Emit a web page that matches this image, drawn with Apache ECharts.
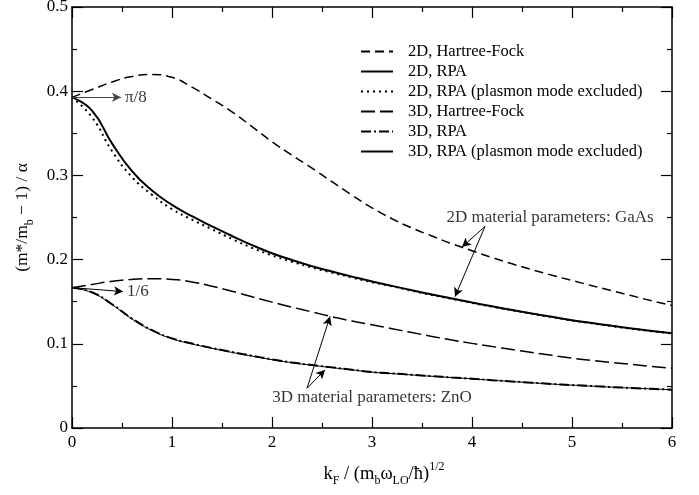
<!DOCTYPE html>
<html lang="en">
<head>
    <meta charset="UTF-8">
    <title>Effective mass</title>
    <style>
        body { margin: 0; background: #fff; }
        #container { width: 699px; height: 495px; }
    </style>
</head>
<body>
    <div id="container"></div>
    <script src="https://cdn.jsdelivr.net/npm/echarts@6/dist/echarts.min.js"></script>
    <script>
        // k_F sampled every 0.2 from 0 to 6
        var kF = [0, 0.2, 0.4, 0.6, 0.8, 1.0, 1.2, 1.4, 1.6, 1.8, 2.0, 2.2, 2.4, 2.6, 2.8, 3.0,
            3.2, 3.4, 3.6, 3.8, 4.0, 4.2, 4.4, 4.6, 4.8, 5.0, 5.2, 5.4, 5.6, 5.8, 6.0];

        var hf2D = [0.3927, 0.402, 0.411, 0.4175, 0.4198, 0.4165, 0.4048, 0.3905, 0.3755, 0.358, 0.340,
            0.324, 0.3085, 0.2925, 0.2765, 0.2615, 0.2485, 0.2375, 0.228, 0.2188, 0.2105,
            0.2025, 0.195, 0.188, 0.1815, 0.1752, 0.169, 0.163, 0.157, 0.151, 0.1455];
        var rpa2D = [0.3927, 0.377, 0.338, 0.305, 0.282, 0.265, 0.2515, 0.2395, 0.228, 0.2172, 0.2075,
            0.1995, 0.1922, 0.1858, 0.1798, 0.174, 0.1688, 0.1635, 0.1585, 0.1538, 0.149,
            0.1445, 0.1402, 0.136, 0.132, 0.128, 0.1246, 0.1213, 0.1182, 0.1153, 0.1125];
        var rpaEx2D = [0.3927, 0.369, 0.329, 0.298, 0.277, 0.260, 0.2475, 0.236, 0.2245, 0.214, 0.205,
            0.1975, 0.1905, 0.1845, 0.1787, 0.1732, 0.1683, 0.163, 0.158, 0.1533, 0.1486,
            0.1441, 0.1398, 0.1356, 0.1316, 0.1276, 0.1243, 0.121, 0.1179, 0.115, 0.1122];
        var hf3D = [0.1667, 0.1705, 0.1742, 0.1765, 0.1773, 0.1765, 0.1735, 0.1683, 0.1625, 0.1558, 0.1495,
            0.1435, 0.1378, 0.1322, 0.127, 0.1225, 0.118, 0.1133, 0.1088, 0.1045, 0.1005,
            0.0968, 0.0932, 0.0897, 0.0863, 0.083, 0.0803, 0.0778, 0.0754, 0.0731, 0.071];
        var rpa3D = [0.1667, 0.1612, 0.147, 0.130, 0.1162, 0.1065, 0.1003, 0.095, 0.0902, 0.0858, 0.0815,
            0.0778, 0.0748, 0.072, 0.0692, 0.0665, 0.0648, 0.0632, 0.0616, 0.06, 0.0585,
            0.0568, 0.0553, 0.0538, 0.0523, 0.051, 0.0498, 0.0486, 0.0475, 0.0465, 0.0455];
        var rpaEx3D = [0.1667, 0.1607, 0.1465, 0.1295, 0.1157, 0.106, 0.0998, 0.0946, 0.0898, 0.0854, 0.0811,
            0.0775, 0.0745, 0.0717, 0.069, 0.0663, 0.0646, 0.063, 0.0614, 0.0599, 0.0584,
            0.0567, 0.0552, 0.0537, 0.0522, 0.0509, 0.0497, 0.0485, 0.0474, 0.0464, 0.0454];

        var seriesNames = ['2D, Hartree-Fock', '2D, RPA', '2D, RPA (plasmon mode excluded)',
            '3D, Hartree-Fock', '3D, RPA', '3D, RPA (plasmon mode excluded)'];

        // annotation texts: [x, y, text, anchored at left?]
        var notes = [
            [0.51, 0.3927, 'π/8', true],
            [0.53, 0.162, '1/6', true],
            [4.78, 0.25, '2D material parameters: GaAs', false],
            [3.0, 0.0357, '3D material parameters: ZnO', false]
        ];
        // arrows: [x0, y0, x1, y1]
        var arrows = [
            [0, 0.3927, 0.49, 0.3927],
            [0, 0.1667, 0.51, 0.162],
            [4.13, 0.2394, 3.90, 0.2149],
            [4.13, 0.2394, 3.83, 0.156],
            [2.35, 0.0472, 2.58, 0.1324],
            [2.35, 0.0472, 2.53, 0.069]
        ];

        function pairs(ys) {
            return kF.map(function (x, i) { return [x, ys[i]]; });
        }

        var font = 'Liberation Serif';

        var ec = echarts.init(document.querySelector('#container'));

        function lineSeries(name, ys, type, width) {
            return {
                name: name,
                type: 'line',
                data: pairs(ys),
                smooth: 0.5,
                symbol: 'none',
                lineStyle: { color: '#000', width: width, type: type },
                itemStyle: { color: '#000' },
                z: 3
            };
        }

        var axisCommon = {
            type: 'value',
            splitLine: { show: false },
            axisLine: { onZero: false, lineStyle: { color: '#000', width: 1.5 } },
            axisTick: { inside: true, length: 11, lineStyle: { color: '#000', width: 1.2 } },
            minorTick: { show: true, splitNumber: 2, length: 5, lineStyle: { color: '#000', width: 1.2 } }
        };

        var subStyle = { fontFamily: font, fontSize: 12, lineHeight: 12, verticalAlign: 'bottom', padding: [14, 0, 0, 0], color: '#000' };

        var option = {
            backgroundColor: '#fff',
            animation: false,
            grid: { left: 72, right: 27, top: 7, bottom: 67, outerBoundsMode: 'none', containLabel: false },
            legend: {
                orient: 'vertical',
                left: 355,
                top: 38,
                itemWidth: 32,
                itemHeight: 14,
                itemGap: 3,
                data: seriesNames,
                itemStyle: { opacity: 0 },
                textStyle: { fontFamily: font, fontSize: 16.5, lineHeight: 14, color: '#000', padding: [0, 0, 0, 10] }
            },
            xAxis: [
                Object.assign({}, axisCommon, {
                    min: 0, max: 6, interval: 1,
                    name: '{t|k}{sub|F}{t| / (m}{sub|b}{t|ω}{sub|LO}{t|/ħ)}{sup|1/2}',
                    nameLocation: 'middle',
                    nameGap: 33,
                    nameTextStyle: {
                        color: '#000',
                        padding: [0, 0, 0, 24],
                        rich: {
                            t: { fontFamily: font, fontSize: 18.5, lineHeight: 26, color: '#000' },
                            sub: subStyle,
                            sup: { fontFamily: font, fontSize: 12, lineHeight: 12, verticalAlign: 'top', color: '#000' }
                        }
                    },
                    axisLabel: { fontFamily: font, fontSize: 17, color: '#000', margin: 6 }
                }),
                Object.assign({}, axisCommon, {
                    min: 0, max: 6, interval: 1, position: 'top',
                    axisLabel: { show: false }
                })
            ],
            yAxis: [
                Object.assign({}, axisCommon, {
                    min: 0, max: 0.5, interval: 0.1,
                    name: '{t|(m*/m}{sub|b}{t| − 1) / α}',
                    nameLocation: 'middle',
                    nameGap: 36,
                    nameTextStyle: {
                        color: '#000',
                        rich: {
                            t: { fontFamily: font, fontSize: 17.5, lineHeight: 26, color: '#000' },
                            sub: subStyle
                        }
                    },
                    axisLabel: {
                        fontFamily: font, fontSize: 17, color: '#000', margin: 4,
                        formatter: function (v) { return v === 0 ? '0' : v.toFixed(1); }
                    }
                }),
                Object.assign({}, axisCommon, {
                    min: 0, max: 0.5, interval: 0.1, position: 'right',
                    axisLabel: { show: false }
                })
            ],
            series: [
                lineSeries(seriesNames[0], hf2D, [9, 5], 1.5),
                lineSeries(seriesNames[1], rpa2D, 'solid', 2),
                lineSeries(seriesNames[2], rpaEx2D, [2, 4], 2),
                lineSeries(seriesNames[3], hf3D, [14, 5], 1.5),
                lineSeries(seriesNames[4], rpa3D, [10, 3, 2, 3], 2),
                lineSeries(seriesNames[5], rpaEx3D, 'solid', 1),
                {
                    name: 'notes',
                    type: 'scatter',
                    data: notes.map(function (n) {
                        return {
                            value: [n[0], n[1]],
                            note: n[2],
                            label: n[3] ? { position: 'right', distance: 2 } : { position: 'inside' }
                        };
                    }),
                    symbolSize: 0,
                    label: {
                        show: true,
                        fontFamily: font,
                        fontSize: 17,
                        color: '#000',
                        formatter: function (p) { return p.data.note; }
                    },
                    markLine: {
                        silent: true,
                        symbol: ['none', 'arrow'],
                        symbolSize: [7, 9],
                        label: { show: false },
                        lineStyle: { color: '#000', width: 1, type: 'solid' },
                        data: arrows.map(function (a, i) {
                            var item = [{ coord: [a[0], a[1]] }, { coord: [a[2], a[3]] }];
                            if (i === 0) item[0].lineStyle = { color: '#444' };
                            return item;
                        })
                    },
                    z: 4
                }
            ]
        };

        ec.setOption(option);
    </script>
</body>
</html>
